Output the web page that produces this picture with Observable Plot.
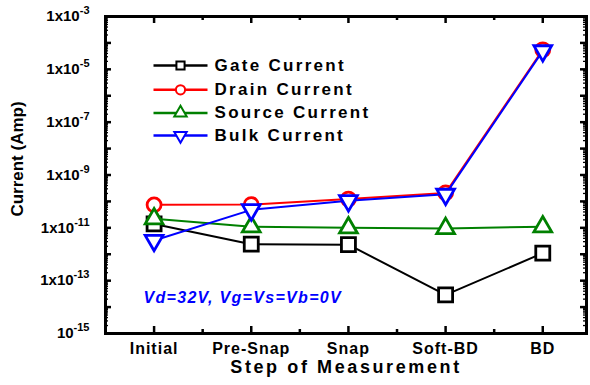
<!DOCTYPE html>
<html><head><meta charset="utf-8">
<script src="https://cdn.jsdelivr.net/npm/d3@7"></script>
<script src="https://cdn.jsdelivr.net/npm/@observablehq/plot@0.6"></script>
<style>
body{margin:0;background:#fff;}
#chart svg{font-family:"Liberation Sans",Arial,sans-serif;}
g[aria-label="x-axis tick label"] text{letter-spacing:1px;}
</style>
</head><body><div id="chart"></div>
<script>
// ---- data ----
const steps = ["Initial", "Pre-Snap", "Snap", "Soft-BD", "BD"];
const seriesNames = ["Gate Current", "Drain Current", "Source Current", "Bulk Current"];
const seriesColors = ["#000000", "#ff0000", "#008000", "#0000ff"];
const seriesSymbols = ["square", "circle", "triangle", "triangle"];
const seriesRotate = [0, 0, 0, 180];
const seriesR = [7.9, 7, 6.6, 6.6];
const gateCurrent   = [1.4e-11, 2.4e-12, 2.3e-12, 2.9e-14, 1.1e-12];
const drainCurrent  = [7.4e-11, 7.6e-11, 1.23e-10, 2.1e-10, 5.5e-5];
const sourceCurrent = [2.2e-11, 1.1e-11, 1.0e-11, 9.5e-12, 1.1e-11];
const bulkCurrent   = [3.3e-12, 4.8e-11, 1.05e-10, 1.85e-10, 5.0e-5];
const yLabelExponents = [-3, -5, -7, -9, -11, -13, -15];
const yDecadeExponents = [-15, -14, -13, -12, -11, -10, -9, -8, -7, -6, -5, -4, -3];
const yTitle = "Current (Amp)";
const xTitle = "Step of Measurement";
const annotation = "Vd=32V, Vg=Vs=Vb=0V";

const seriesValues = [gateCurrent, drainCurrent, sourceCurrent, bulkCurrent];

// ---- layout ----
const W = 590, H = 385, mL = 105, mR = 4, mT = 16, mB = 52;
const plotW = W - mL - mR, plotH = H - mT - mB;

const xMajor = steps.map((s, i) => i + 1);
const xMinor = xMajor.slice(0, -1).map(v => v + 0.5);
const yDecades = yDecadeExponents.map(e => Math.pow(10, e));
const ySub = [];
yDecadeExponents.slice(0, -1).forEach(e => { for (let k = 2; k <= 9; k++) ySub.push(k * Math.pow(10, e)); });
const yLabelTicks = yLabelExponents.map(e => Math.pow(10, e));

const marks = [];
seriesNames.forEach((name, si) => {
  const rows = steps.map((s, i) => ({x: i + 1, v: seriesValues[si][i]}));
  marks.push(Plot.line(rows, {x: "x", y: "v", stroke: seriesColors[si], strokeWidth: 2}));
  marks.push(Plot.dot(rows, {x: "x", y: "v", symbol: seriesSymbols[si], r: seriesR[si], rotate: seriesRotate[si],
    stroke: seriesColors[si], strokeWidth: 2.8, fill: "white"}));
});

// legend
const lineSym = {draw(ctx) { ctx.moveTo(-27, 0); ctx.lineTo(27, 0); }};
const legendDy = [49, 73.3, 96.5, 119];
seriesNames.forEach((name, si) => {
  marks.push(Plot.dot([name], {x: null, y: null, frameAnchor: "top-left", dx: 75, dy: legendDy[si],
    symbol: lineSym, r: 5, stroke: seriesColors[si], strokeWidth: 2.5, fill: "none"}));
  marks.push(Plot.dot([name], {x: null, y: null, frameAnchor: "top-left", dx: 75, dy: legendDy[si],
    symbol: seriesSymbols[si], r: 4.6, rotate: seriesRotate[si], stroke: seriesColors[si], strokeWidth: 2, fill: "white"}));
  marks.push(Plot.text([name], {x: null, y: null, text: d => d, frameAnchor: "top-left", dx: 109, dy: legendDy[si],
    textAnchor: "start", lineAnchor: "middle", fontSize: 17, fontWeight: "bold", fill: "black"}));
});

// annotation
marks.push(Plot.text([annotation], {x: null, y: null, text: d => d, frameAnchor: "top-left", dx: 38, dy: 281,
  textAnchor: "start", lineAnchor: "middle", fontSize: 16, fontWeight: "bold", fontStyle: "italic", fill: "#0000ff"}));

// inward ticks
marks.push(Plot.ruleY(yDecades, {insetRight: plotW - 6, stroke: "black", strokeWidth: 2.5}));
marks.push(Plot.ruleY(yDecades, {insetLeft: plotW - 6, stroke: "black", strokeWidth: 2.5}));
marks.push(Plot.ruleY(ySub, {insetRight: plotW - 3, stroke: "black", strokeWidth: 1.3}));
marks.push(Plot.ruleY(ySub, {insetLeft: plotW - 3, stroke: "black", strokeWidth: 1.3}));
marks.push(Plot.ruleX(xMajor, {insetTop: plotH - 7, stroke: "black", strokeWidth: 2.5}));
marks.push(Plot.ruleX(xMajor, {insetBottom: plotH - 7, stroke: "black", strokeWidth: 2.5}));
marks.push(Plot.ruleX(xMinor, {insetTop: plotH - 4, stroke: "black", strokeWidth: 2.5}));
marks.push(Plot.ruleX(xMinor, {insetBottom: plotH - 4, stroke: "black", strokeWidth: 2.5}));

marks.push(Plot.frame({stroke: "black", strokeWidth: 3}));

// axes
marks.push(Plot.axisX({ticks: xMajor, tickFormat: d => steps[d - 1], tickSize: 0, tickPadding: 9,
  fontSize: 16, fontWeight: "bold", label: null}));
marks.push(Plot.axisY({ticks: yLabelTicks, tickSize: 0, tickPadding: 16, fontSize: 15, fontWeight: "bold", label: null,
  tickFormat: d => { const e = Math.round(Math.log10(d)); return (e === -15 ? "10" : "1x10") + "^" + e; }}));
marks.push(Plot.text([xTitle], {x: null, y: null, text: d => d, frameAnchor: "bottom", dy: 27, lineAnchor: "top",
  textAnchor: "middle", fontSize: 18, fontWeight: "bold", fill: "black"}));
marks.push(Plot.text([yTitle], {x: null, y: null, text: d => d, frameAnchor: "left", dx: -88, dy: -16, rotate: -90,
  textAnchor: "middle", lineAnchor: "middle", fontSize: 17, fontWeight: "bold", fill: "black"}));

const chart = Plot.plot({
  width: W, height: H, marginLeft: mL, marginRight: mR, marginTop: mT, marginBottom: mB,
  style: {fontFamily: "Liberation Sans, Arial, sans-serif", background: "white", color: "black"},
  x: {type: "linear", domain: [0.5, 5.45]},
  y: {type: "log", domain: [1e-15, 1e-3]},
  marks
});
document.getElementById("chart").appendChild(chart);

// superscript exponents on y tick labels
d3.select(chart).selectAll('g[aria-label="y-axis tick label"] text').each(function() {
  const t = this.textContent;
  const parts = t.split("^");
  if (parts.length !== 2) return;
  const sel = d3.select(this);
  sel.text(null);
  sel.append("tspan").text(parts[0]);
  sel.append("tspan").attr("dy", "-7").attr("font-size", 11).text(parts[1]);
});

// letter spacing to match the wide original lettering
const spacing = new Map([[xTitle, "2.6px"], [annotation, "1.3px"]]);
seriesNames.forEach(n => spacing.set(n, "2.3px"));
d3.select(chart).selectAll("text").each(function() {
  const s = spacing.get(this.textContent);
  if (s) this.style.letterSpacing = s;
});
</script>
</body></html>
